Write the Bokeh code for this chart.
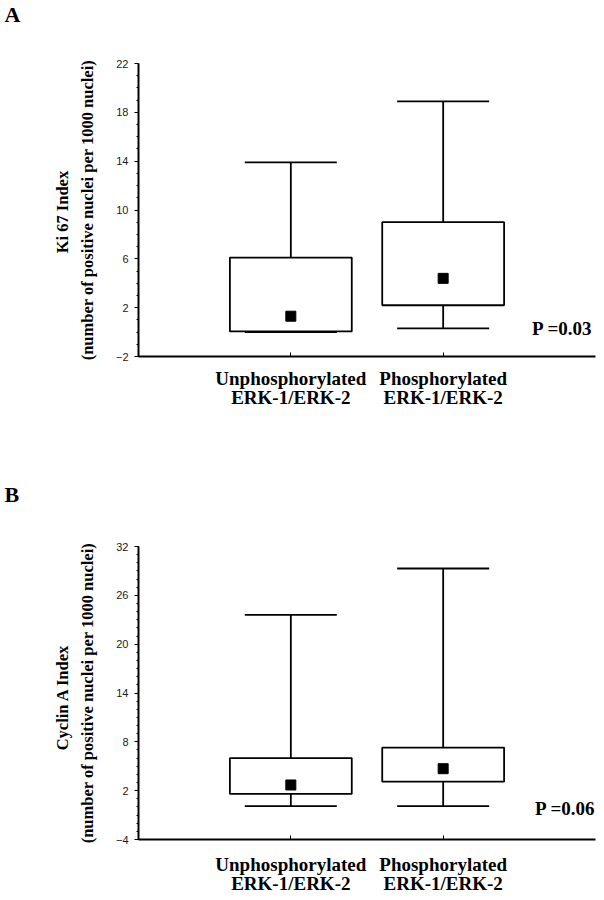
from bokeh.plotting import figure
from bokeh.layouts import column
from bokeh.models import FactorRange, Range1d, FixedTicker, Label, Title
from bokeh.embed import file_html
from bokeh.resources import INLINE

categories = ["Unphosphorylated\nERK-1/ERK-2", "Phosphorylated\nERK-1/ERK-2"]

# Panel A: Ki 67 index
ki67_low = [0.0, 0.3]
ki67_q1 = [0.05, 2.2]
ki67_mean = [1.3, 4.4]
ki67_q3 = [6.1, 9.0]
ki67_high = [13.9, 18.9]
ki67_ticks = [-2, 2, 6, 10, 14, 18, 22]
ki67_p = "P =0.03"

# Panel B: Cyclin A index
cyc_low = [0.1, 0.1]
cyc_q1 = [1.6, 3.1]
cyc_mean = [2.7, 4.7]
cyc_q3 = [6.0, 7.3]
cyc_high = [23.6, 29.3]
cyc_ticks = [-4, 2, 8, 14, 20, 26, 32]
cyc_p = "P =0.06"

SERIF = "Liberation Serif"
SANS = "Liberation Sans"
LW = 1.8


def panel(letter, ylabel, ticks, low, q1, mean, q3, high, ptext,
          top, bottom, p_x, p_y, spacer_px, x_standoff):
    p = figure(frame_width=457, frame_height=293, output_backend="svg", toolbar_location=None,
               x_range=FactorRange(factors=categories, range_padding=0.5),
               y_range=Range1d(ticks[0], ticks[-1]),
               min_border_left=138, min_border_right=7,
               min_border_top=top, min_border_bottom=bottom,
               title_location=None)
    p.outline_line_color = None
    p.grid.visible = False
    p.background_fill_color = "white"

    # spacer (closest to the frame), then the panel letter above it
    p.add_layout(Title(text=" ", text_font_size=spacer_px, standoff=0), "above")
    p.add_layout(Title(text=letter, align="left", offset=-134, text_font=SERIF,
                       text_font_style="bold", text_font_size="22px", text_color="black",
                       vertical_align="top", standoff=0), "above")

    # whiskers
    p.segment(x0=categories, y0=low, x1=categories, y1=high,
              line_color="black", line_width=LW)
    # boxes
    p.vbar(x=categories, bottom=q1, top=q3, width=0.8,
           fill_color="white", line_color="black", line_width=LW)
    # caps
    p.scatter(x=categories, y=high, marker="dash", size=92,
              line_color="black", line_width=LW)
    p.scatter(x=categories, y=low, marker="dash", size=92,
              line_color="black", line_width=LW)
    # means
    p.scatter(x=categories, y=mean, marker="square", size=10,
              fill_color="black", line_color="black")

    ya = p.yaxis[0]
    ya.ticker = FixedTicker(ticks=ticks, minor_ticks=list(range(ticks[0], ticks[-1] + 1)))
    ya.axis_label = ylabel
    ya.axis_label_text_font = SERIF
    ya.axis_label_text_font_style = "bold"
    ya.axis_label_text_font_size = "16.5px"
    ya.axis_label_text_color = "black"
    ya.axis_label_text_line_height = 1.3
    ya.axis_label_standoff = 16
    ya.major_label_text_font = SANS
    ya.major_label_text_font_size = "11px"
    ya.major_label_text_color = "#1a1a1a"
    ya.major_label_standoff = 6
    ya.axis_line_width = 2
    ya.axis_line_color = "black"
    ya.major_tick_out = 4
    ya.major_tick_in = 0
    ya.minor_tick_out = 2
    ya.minor_tick_in = 0

    xa = p.xaxis[0]
    xa.axis_line_width = 2
    xa.axis_line_color = "black"
    xa.major_tick_in = 4
    xa.major_tick_out = 0
    xa.major_label_text_font = SERIF
    xa.major_label_text_font_style = "bold"
    xa.major_label_text_font_size = "19px"
    xa.major_label_text_line_height = 0.92
    xa.major_label_text_color = "black"
    xa.major_label_standoff = x_standoff

    p.add_layout(Label(x=p_x, y=p_y, x_units="screen", y_units="screen",
                       text=ptext, text_font=SERIF, text_font_style="bold", text_color="black",
                       text_font_size="19px", text_baseline="middle", text_align="right"))
    return p


pa = panel("A", "Ki 67  Index\n(number of positive nuclei per 1000 nuclei)", ki67_ticks,
           ki67_low, ki67_q1, ki67_mean, ki67_q3, ki67_high, ki67_p,
           63, 93, 454, 28, "30px", 11)
pb = panel("B", "Cyclin  A  Index\n(number of positive nuclei per 1000 nuclei)", cyc_ticks,
           cyc_low, cyc_q1, cyc_mean, cyc_q3, cyc_high, cyc_p,
           97, 59, 457, 31, "32px", 14)

layout = column(pa, pb, spacing=0)
open("out.html", "w").write(file_html(layout, INLINE))
